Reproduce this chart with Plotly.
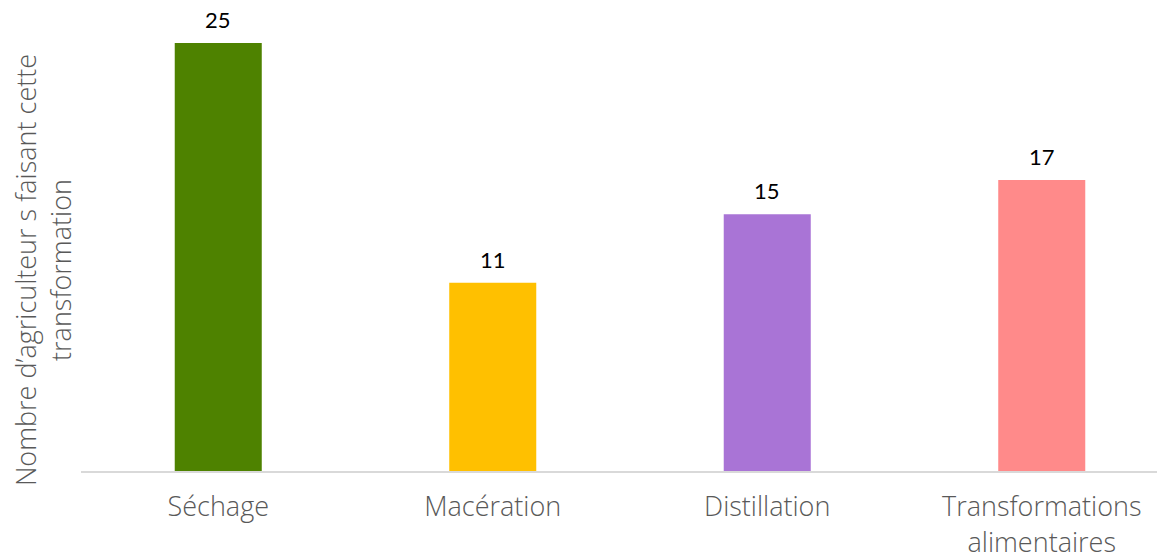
import plotly.graph_objects as go

categories = ["Séchage", "Macération", "Distillation", "Transformations<br>alimentaires"]
values = [25, 11, 15, 17]
colors = ["#4E8200", "#FFC000", "#A974D6", "#FF8A8A"]

fig = go.Figure()
fig.add_trace(go.Bar(
    x=categories, y=values, marker=dict(color=colors, line=dict(width=0)),
    width=0.317, hoverinfo="skip",
))

for c, v in zip(categories, values):
    fig.add_annotation(x=c, y=v, text=str(v), showarrow=False, yanchor="bottom",
                       yshift=9, borderpad=0,
                       font=dict(family="Lato", size=22, color="#000000"))

fig.add_annotation(xref="paper", yref="paper", x=-0.035, y=0.434,
                   xanchor="center", yanchor="middle", textangle=-90, showarrow=False,
                   text="Nombre d’agriculteur s faisant cette<br>transformation",
                   font=dict(family="Open Sans", size=27, color="#595959", weight=300))

fig.update_layout(
    width=1157, height=545,
    margin=dict(l=73, r=0, t=0, b=82, autoexpand=False),
    plot_bgcolor="white", paper_bgcolor="white",
    showlegend=False,
    xaxis=dict(range=[-0.5, 3.449], showline=True, linecolor="#D9D9D9", linewidth=2,
               ticks="", showgrid=False, ticklabelstandoff=11, automargin=False,
               tickfont=dict(family="Open Sans", size=27, color="#595959", weight=300)),
    yaxis=dict(range=[0, 27.04], visible=False, showgrid=False, zeroline=False,
               automargin=False),
)

fig.write_html("out.html")
